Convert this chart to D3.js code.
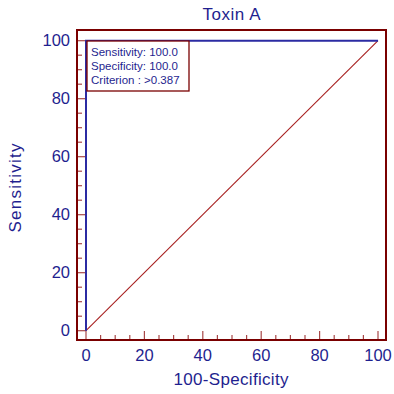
<!DOCTYPE html>
<html>
<head>
<meta charset="utf-8">
<script src="https://d3js.org/d3.v7.min.js"></script>
<style>
body { margin: 0; background: #fff; }
text { font-family: "Liberation Sans", Arial, sans-serif; }
</style>
</head>
<body>
<svg id="chart" width="394" height="394"></svg>
<script>
// ROC curve points (100-Specificity, Sensitivity)
var rocX = [0, 0, 100];
var rocY = [0, 100, 100];
var refX = [0, 100];
var refY = [0, 100];
var majorTicks = [0, 20, 40, 60, 80, 100];
var legendLines = ["Sensitivity: 100.0", "Specificity: 100.0", "Criterion : >0.387"];

var BLUE = "#1f1f8f", LINE = "#2b2ba3", RED = "#7a0000", TICK = "#a84848";

var svg = d3.select("#chart");

var x = d3.scaleLinear().domain([0, 100]).range([86, 378]);
var y = d3.scaleLinear().domain([0, 100]).range([330.7, 40.7]);

// frame edges (note: "top" is reserved on window)
var fL = 77, fR = 386, fT = 30, fB = 340;

// minor ticks every 5
var minor = d3.range(0, 101, 5).filter(function (v) { return v % 20 !== 0; });

svg.selectAll(".xminor").data(minor).enter().append("line")
    .attr("x1", function (d) { return x(d); }).attr("x2", function (d) { return x(d); })
    .attr("y1", fB).attr("y2", fB - 5)
    .style("stroke", TICK).style("stroke-width", 1.2);
svg.selectAll(".xmajor").data(majorTicks).enter().append("line")
    .attr("x1", function (d) { return x(d); }).attr("x2", function (d) { return x(d); })
    .attr("y1", fB).attr("y2", fB - 9)
    .style("stroke", TICK).style("stroke-width", 1.2);
svg.selectAll(".yminor").data(minor).enter().append("line")
    .attr("y1", function (d) { return y(d); }).attr("y2", function (d) { return y(d); })
    .attr("x1", fL).attr("x2", fL + 5)
    .style("stroke", TICK).style("stroke-width", 1.2);
svg.selectAll(".ymajor").data(majorTicks).enter().append("line")
    .attr("y1", function (d) { return y(d); }).attr("y2", function (d) { return y(d); })
    .attr("x1", fL).attr("x2", fL + 9)
    .style("stroke", TICK).style("stroke-width", 1.2);

// frame
svg.append("rect")
    .attr("x", fL).attr("y", fT)
    .attr("width", fR - fL).attr("height", fB - fT)
    .style("fill", "none").style("stroke", RED).style("stroke-width", 2);

// tick labels
svg.selectAll(".xlab").data(majorTicks).enter().append("text")
    .attr("x", function (d) { return x(d); }).attr("y", 361)
    .attr("text-anchor", "middle").attr("font-size", "16.5px")
    .style("fill", BLUE).text(function (d) { return d; });
svg.selectAll(".ylab").data(majorTicks).enter().append("text")
    .attr("x", 70).attr("y", function (d) { return y(d); })
    .attr("dy", "0.35em")
    .attr("text-anchor", "end").attr("font-size", "16.5px")
    .style("fill", BLUE).text(function (d) { return d; });

// titles
svg.append("text").attr("x", 231.5).attr("y", 20)
    .attr("text-anchor", "middle").attr("font-size", "17px")
    .attr("textLength", 58).attr("lengthAdjust", "spacing")
    .style("fill", BLUE).text("Toxin A");
svg.append("text").attr("x", 231).attr("y", 385)
    .attr("text-anchor", "middle").attr("font-size", "17px")
    .attr("textLength", 115).attr("lengthAdjust", "spacing")
    .style("fill", BLUE).text("100-Specificity");
svg.append("text")
    .attr("transform", "translate(21,188) rotate(-90)")
    .attr("text-anchor", "middle").attr("font-size", "17px")
    .attr("textLength", 89).attr("lengthAdjust", "spacing")
    .style("fill", BLUE).text("Sensitivity");

// reference diagonal
var line = d3.line()
    .x(function (d) { return x(d[0]); })
    .y(function (d) { return y(d[1]); });

svg.append("path")
    .attr("d", line(d3.zip(refX, refY)))
    .style("fill", "none").style("stroke", "#a82020").style("stroke-width", 1.1);

// ROC curve
svg.append("path")
    .attr("d", line(d3.zip(rocX, rocY)))
    .style("fill", "none").style("stroke", LINE).style("stroke-width", 2);

// legend box
var lg = svg.append("g");
lg.append("rect")
    .attr("x", 87).attr("y", 41)
    .attr("width", 102).attr("height", 50)
    .style("fill", "#fff").style("stroke", RED).style("stroke-width", 1.3);
lg.selectAll("text").data(legendLines).enter().append("text")
    .attr("x", 91).attr("y", function (d, i) { return 56 + i * 14; })
    .attr("font-size", "11.5px")
    .style("fill", BLUE).text(function (d) { return d; });
</script>
</body>
</html>
